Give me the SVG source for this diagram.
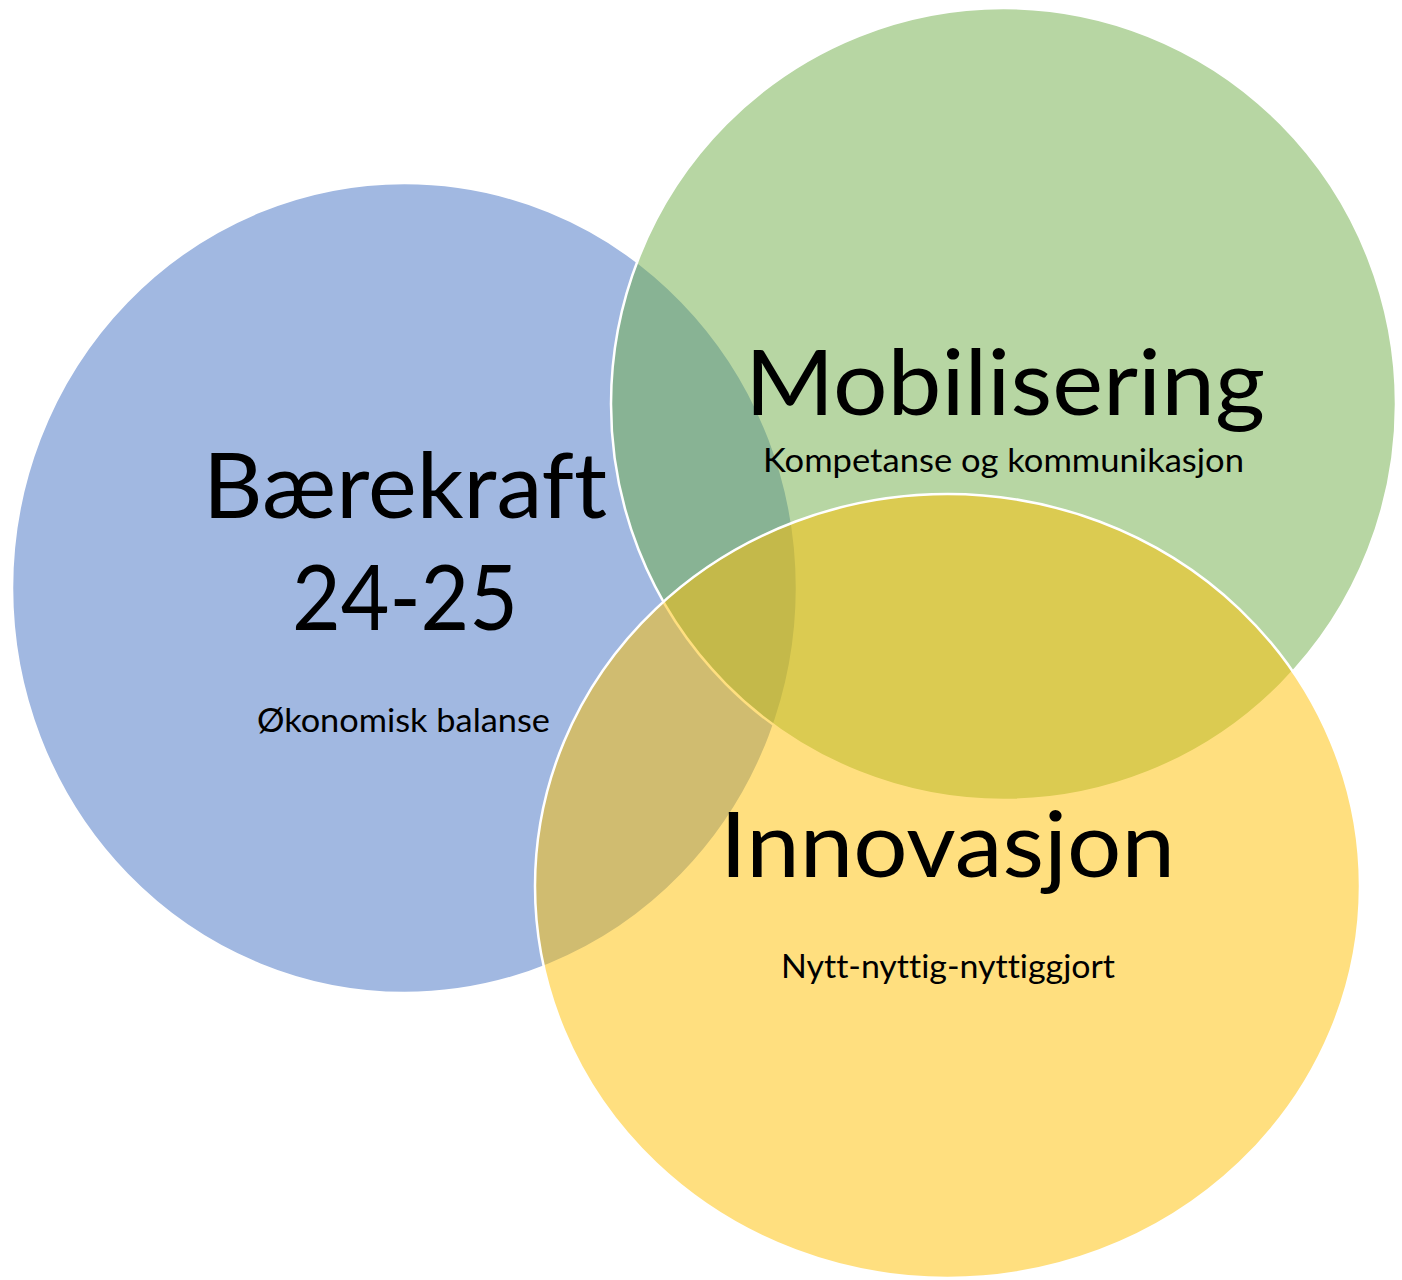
<svg xmlns="http://www.w3.org/2000/svg" width="1402" height="1280" viewBox="0 0 1402 1280">
  <style>
    .disc { stroke: #ffffff; stroke-width: 2.5; fill-opacity: 0.5; }
    text { font-family: Lato, "Liberation Sans", sans-serif; fill: #000000; text-anchor: middle; font-variant-ligatures: none; font-feature-settings: "liga" 0, "clig" 0; }
    .title { font-size: 92px; }
    .sub { font-size: 33px; }
  </style>
  <rect width="1402" height="1280" fill="#ffffff"/>

  <!-- Bærekraft circle (bottom layer) -->
  <g id="node-baerekraft">
    <ellipse class="disc" cx="404.5" cy="588" rx="392.5" ry="405" fill="#4472C4"/>
  </g>

  <!-- Mobilisering circle -->
  <g id="node-mobilisering">
    <ellipse class="disc" cx="1003.5" cy="404" rx="392.5" ry="396" fill="#70AD47"/>
  </g>

  <!-- Innovasjon circle (top layer) -->
  <g id="node-innovasjon">
    <ellipse class="disc" cx="947.5" cy="886" rx="412.5" ry="392" fill="#FFC000"/>
  </g>

  <!-- Labels -->
  <g id="labels">
    <text class="title" x="405" y="518" textLength="404" lengthAdjust="spacingAndGlyphs">Bærekraft</text>
    <text class="title" x="405" y="630" textLength="226" lengthAdjust="spacingAndGlyphs">24-25</text>
    <text class="sub" x="403.5" y="732" textLength="293" lengthAdjust="spacingAndGlyphs">Økonomisk balanse</text>

    <text class="title" x="1005" y="415" textLength="520" lengthAdjust="spacingAndGlyphs">Mobilisering</text>
    <text class="sub" x="1003.5" y="472" textLength="481" lengthAdjust="spacingAndGlyphs">Kompetanse og kommunikasjon</text>

    <text class="title" x="947.5" y="877" textLength="455" lengthAdjust="spacingAndGlyphs">Innovasjon</text>
    <text class="sub" x="948" y="978" textLength="334" lengthAdjust="spacingAndGlyphs">Nytt-nyttig-nyttiggjort</text>
  </g>

  <!-- no connectors in this diagram -->
  <g id="connectors"/>
</svg>
